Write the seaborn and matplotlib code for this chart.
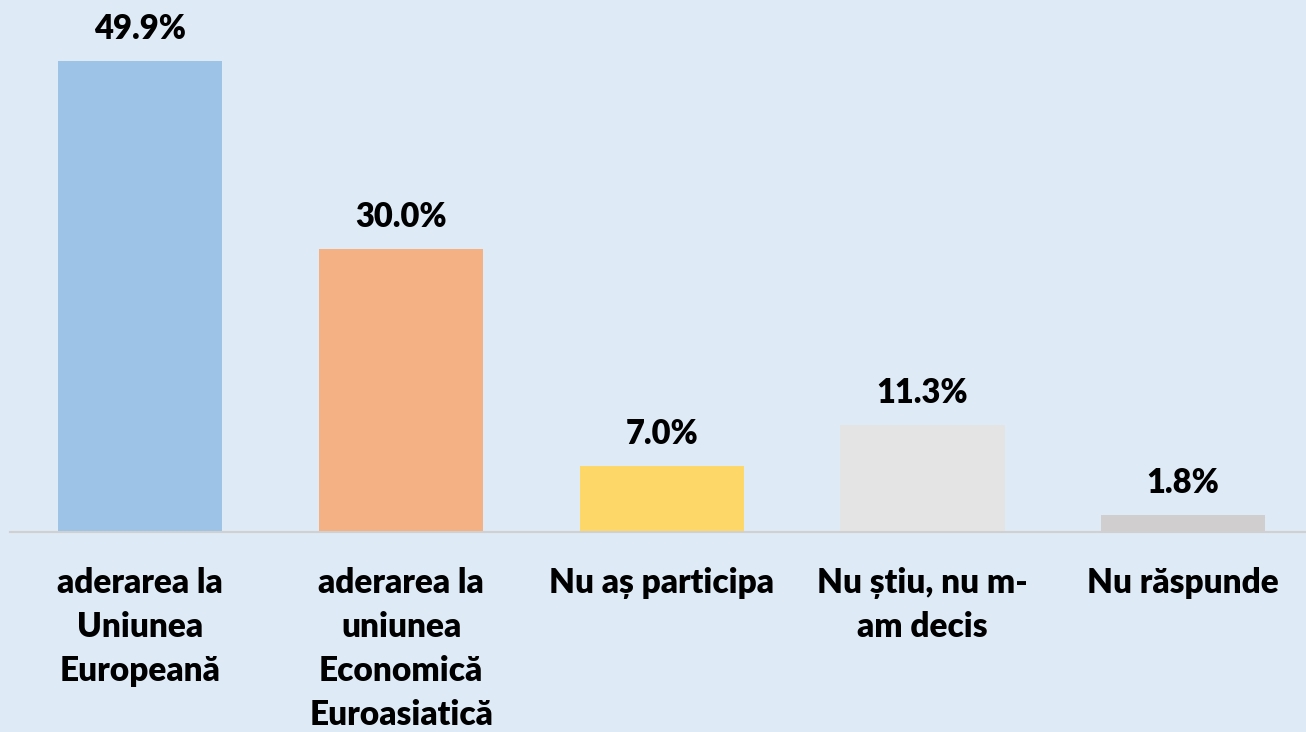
import matplotlib
matplotlib.use("Agg")
import matplotlib.pyplot as plt
import seaborn as sns
import pandas as pd

categories = ["aderarea la\nUniunea\nEuropeană",
              "aderarea la\nuniunea\nEconomică\nEuroasiatică",
              "Nu aș participa",
              "Nu știu, nu m-\nam decis",
              "Nu răspunde"]
values = [49.9, 30.0, 7.0, 11.3, 1.8]
colors = ["#9DC3E6", "#F4B183", "#FDD868", "#E4E4E4", "#D0CECE"]

bg = "#DEEAF6"
sns.set_theme(style="white")
plt.rcParams['font.family'] = ['Lato', 'DejaVu Sans']

df = pd.DataFrame({"cat": categories, "val": values})

fig = plt.figure(figsize=(13.06, 7.32), dpi=100)
fig.patch.set_facecolor(bg)
ax = fig.add_axes([10/1306, 200/732, 1296/1306, 532/732])
ax.set_facecolor(bg)

sns.barplot(data=df, x="cat", y="val", hue="cat", palette=colors,
            legend=False, width=0.63, ax=ax, saturation=1, linewidth=0)

for c in ax.containers:
    ax.bar_label(c, labels=[f"{v:.1f}%" for v in c.datavalues],
                 padding=11.5, fontsize=23.5, fontweight="heavy", color="black")

ax.set_xlim(-0.5, 4.471)
ax.set_ylim(0, 56.36)
ax.set_xlabel("")
ax.set_ylabel("")
ax.set_yticks([])
for s in ["top", "left", "right"]:
    ax.spines[s].set_visible(False)
ax.spines["bottom"].set_color("#D0D0D0")
ax.spines["bottom"].set_linewidth(1.5)
ax.tick_params(axis="x", length=0, pad=25, colors="black")
for t in ax.get_xticklabels():
    t.set_fontsize(24)
    t.set_fontweight("heavy")
    t.set_color("black")
    t.set_va("top")
    t.set_linespacing(1.47)

fig.savefig("out.png", dpi=100, facecolor=bg)
